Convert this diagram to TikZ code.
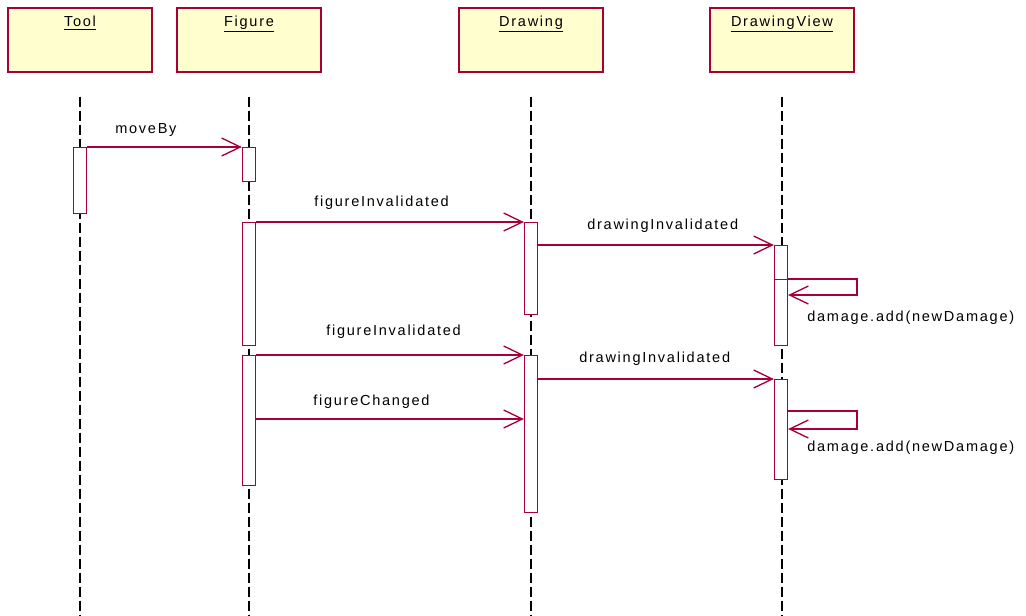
\documentclass[tikz,border=0pt]{standalone}
\usepackage{fontspec}
\setmainfont{Liberation Sans}[LetterSpace=12]
\usetikzlibrary{arrows.meta}
\definecolor{umlred}{RGB}{168,0,54}
\definecolor{umlfill}{RGB}{254,254,206}

\begin{document}
\begin{tikzpicture}[x=0.75pt,y=-0.75pt,
    every node/.style={font=\fontsize{10.9}{13}\selectfont},
    objbox/.style={draw=umlred,fill=umlfill,line width=1.3pt,anchor=north,inner sep=0pt,
        minimum width=108pt,text height=14.25pt,text depth=33.75pt},
    actbar/.style={draw=umlred,fill=white,line width=1pt,anchor=north,inner sep=0pt,
        minimum width=9.75pt,minimum height=#1*0.75pt},
    msg/.style={draw=umlred,line width=1pt,-{Straight Barb[length=14pt,width=13.5pt]}},
    lifeline/.style={line width=1.1pt,dash pattern=on 7.5pt off 3pt},
    msglabel/.style={anchor=base west,inner sep=0pt}]
    \useasboundingbox (0,0) rectangle (1026,615);
    % objects
    \node[objbox] (tool) at (80,7) {\underline{Tool}};
    \node[objbox] (figure) at (249,7) {\underline{Figure}};
    \node[objbox] (drawing) at (531,7) {\underline{Drawing}};
    \node[objbox] (view) at (782,7) {\underline{DrawingView}};
    \coordinate (bottom) at (0,615);
    \foreach \n in {tool,figure,drawing,view}{
      \draw[lifeline] ([yshift=-18pt]\n.south) -- (\n.south |- bottom);
      }
    % activations
    \node[actbar=66] (toolact) at (80,147) {};
    \node[actbar=34] (figact1) at (249,147) {};
    \node[actbar=123] (figact2) at (249,222) {};
    \node[actbar=130] (figact3) at (249,355) {};
    \node[actbar=92] (drawact1) at (531,222) {};
    \node[actbar=157] (drawact2) at (531,355) {};
    \node[actbar=100] (viewact1) at (781,245) {};
    \node[actbar=66] (viewact1b) at (781,279) {};
    \node[actbar=100] (viewact2) at (781,379) {};
    % messages
    \draw[msg] (toolact.north east) -- (figact1.north west);
    \node[msglabel] (lmove) at (115,133) {moveBy};
    \draw[msg] (figact2.north east) -- (drawact1.north west);
    \node[msglabel] (linv1) at (314,206) {figureInvalidated};
    \draw[msg] (drawact1.east |- viewact1.north) -- (viewact1.north west);
    \node[msglabel] (ldinv1) at (587,229) {drawingInvalidated};
    \coordinate (loop1) at (857,295);
    \draw[msg] (viewact1b.north east) -| (loop1) -- (viewact1b.east |- loop1);
    \node[msglabel] (ldmg1) at (807,321) {damage.add(newDamage)};
    \draw[msg] (figact3.north east) -- (drawact2.north west);
    \node[msglabel] (linv2) at (326,335) {figureInvalidated};
    \coordinate (chg) at (0,419);
    \draw[msg] (figact3.east |- chg) -- (drawact2.west |- chg);
    \node[msglabel] (lchg) at (313,405) {figureChanged};
    \draw[msg] (drawact2.east |- viewact2.north) -- (viewact2.north west);
    \node[msglabel] (ldinv2) at (579,362) {drawingInvalidated};
    \coordinate (loop2a) at (857,411);
    \coordinate (loop2b) at (857,429);
    \draw[msg] (viewact2.east |- loop2a) -- (loop2a) -- (loop2b) -- (viewact2.east |- loop2b);
    \node[msglabel] (ldmg2) at (807,451) {damage.add(newDamage)};
\end{tikzpicture}
\end{document}
